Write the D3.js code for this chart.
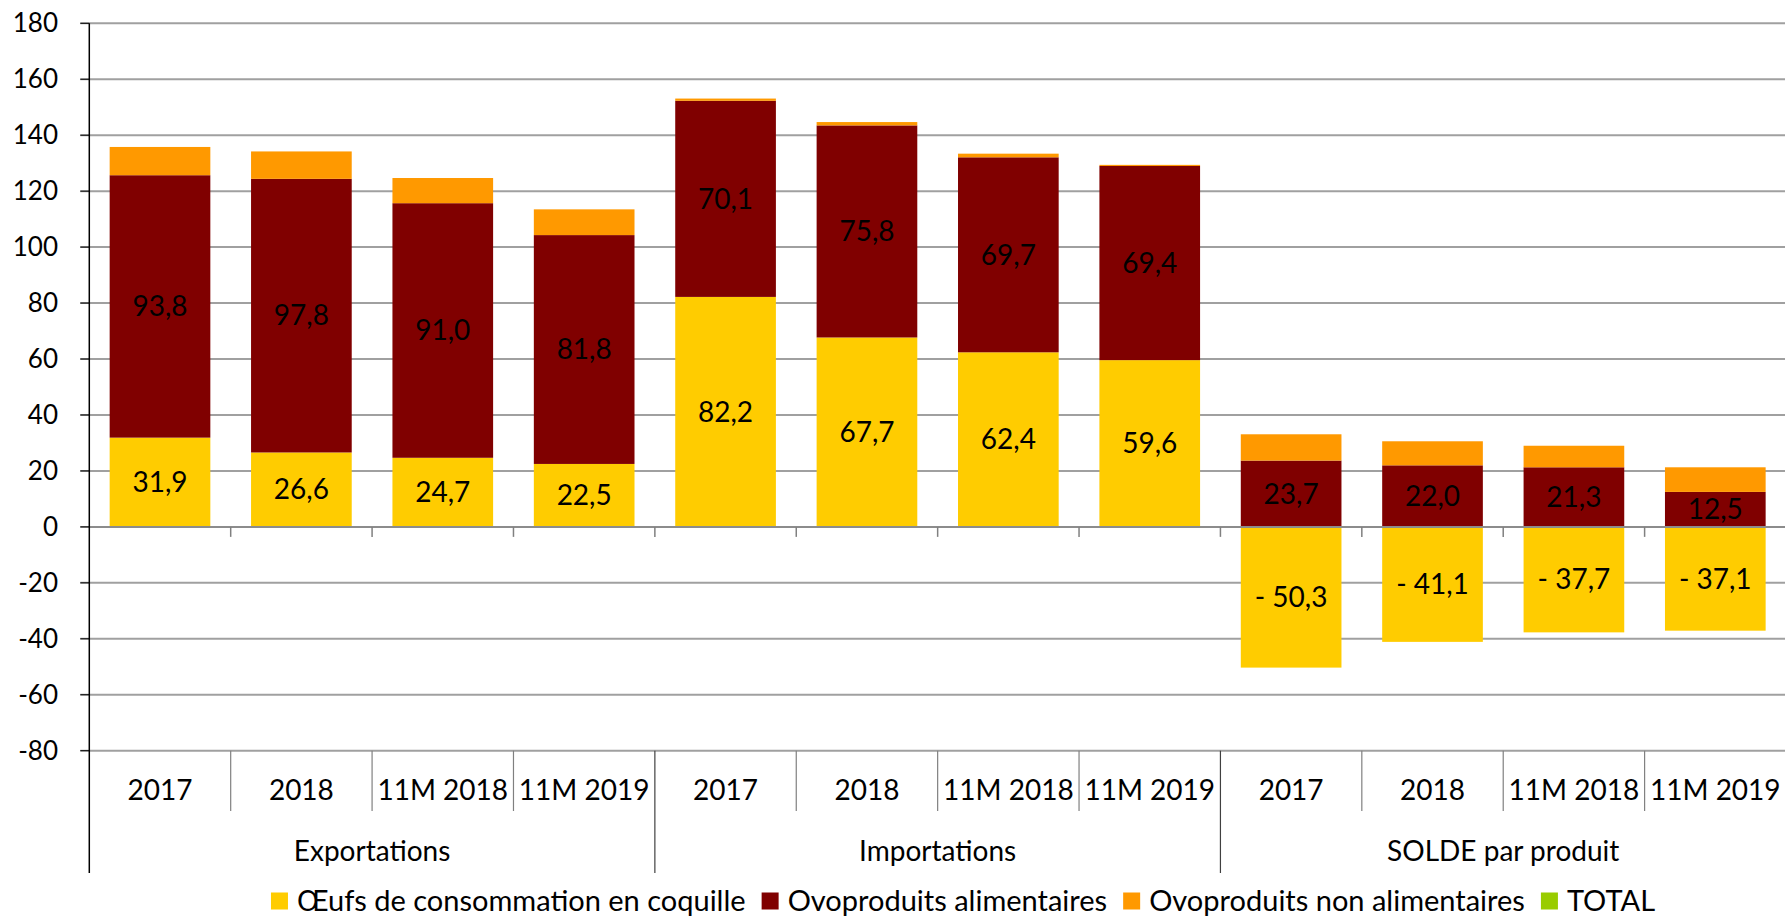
<!DOCTYPE html>
<html>
<head>
<meta charset="utf-8">
<script src="https://cdn.jsdelivr.net/npm/d3@7"></script>
<style>
  body { margin: 0; background: #fff; }
  text { font-family: Lato, "Open Sans", sans-serif; fill: #000; }
</style>
</head>
<body>
<svg id="chart"></svg>
<script>
let width = 1785
let height = 919
let margins = { top: 23.3, left: 89.3, right: 0, bottom: 168.3 }

// categories
let periods = ['2017', '2018', '11M 2018', '11M 2019']
let groups = ['Exportations', 'Importations', 'SOLDE par produit']

// series (one value per group/period, in order)
let oeufs      = [31.9, 26.6, 24.7, 22.5, 82.2, 67.7, 62.4, 59.6, -50.3, -41.1, -37.7, -37.1]
let ovoAlim    = [93.8, 97.8, 91.0, 81.8, 70.1, 75.8, 69.7, 69.4, 23.7, 22.0, 21.3, 12.5]
let ovoNonAlim = [10.1, 9.8, 9.0, 9.2, 0.8, 1.2, 1.3, 0.4, 9.4, 8.6, 7.7, 8.8]

let seriesNames = ['Œufs de consommation en coquille', 'Ovoproduits alimentaires', 'Ovoproduits non alimentaires', 'TOTAL']
let seriesColors = ['#FFCC00', '#800000', '#FF9900', '#99CC00']

let yTicks = [-80, -60, -40, -20, 0, 20, 40, 60, 80, 100, 120, 140, 160, 180]

let rows = []
groups.forEach((g, gi) => {
  periods.forEach((p, pi) => {
    let i = gi * periods.length + pi
    rows.push({ key: i, group: g, period: p, s0: oeufs[i], s1: ovoAlim[i], s2: ovoNonAlim[i] })
  })
})

let svg = d3.select('#chart')
  .attr('width', width)
  .attr('height', height)

let plotBottom = height - margins.bottom

let y = d3.scaleLinear()
  .domain([-80, 180])
  .range([plotBottom, margins.top])

let x = d3.scaleBand()
  .domain(rows.map(d => d.key))
  .range([margins.left, width + 1])
  .paddingInner(0.288)
  .paddingOuter(0.144)

let step = x.step()

// gridlines
svg.append('g')
  .selectAll('line')
  .data(yTicks)
  .join('line')
  .attr('x1', margins.left - 9)
  .attr('x2', width)
  .attr('y1', d => y(d))
  .attr('y2', d => y(d))
  .attr('stroke', '#a0a0a0')
  .attr('stroke-width', 2)

// y tick labels
svg.append('g')
  .selectAll('text')
  .data(yTicks)
  .join('text')
  .attr('x', 58)
  .attr('y', d => y(d))
  .attr('dy', '0.35em')
  .attr('text-anchor', 'end')
  .style('font-size', '26px')
  .text(d => d)

// bars
let stack = d3.stack()
  .keys(['s0', 's1', 's2'])
  .offset(d3.stackOffsetDiverging)
let stacked = stack(rows)

svg.append('g')
  .selectAll('g')
  .data(stacked)
  .join('g')
  .attr('fill', (d, i) => seriesColors[i])
  .selectAll('rect')
  .data(d => d)
  .join('rect')
  .attr('x', d => x(d.data.key))
  .attr('width', x.bandwidth())
  .attr('y', d => y(Math.max(d[0], d[1])))
  .attr('height', d => Math.abs(y(d[0]) - y(d[1])))

// zero line and its small ticks
svg.append('line')
  .attr('x1', margins.left)
  .attr('x2', width)
  .attr('y1', y(0))
  .attr('y2', y(0))
  .attr('stroke', '#8c8c8c')
  .attr('stroke-width', 2)

svg.append('g')
  .selectAll('line')
  .data(rows.slice(1))
  .join('line')
  .attr('x1', d => x(d.key) - step * 0.144)
  .attr('x2', d => x(d.key) - step * 0.144)
  .attr('y1', y(0))
  .attr('y2', y(0) + 10)
  .attr('stroke', '#808080')
  .attr('stroke-width', 1.5)

// value labels (first two series only)
let fmt = v => (v < 0 ? '- ' : '') + d3.format('.1f')(Math.abs(v)).replace('.', ',')

stacked.slice(0, 2).forEach(layer => {
  svg.append('g')
    .selectAll('text')
    .data(layer)
    .join('text')
    .attr('x', d => x(d.data.key) + x.bandwidth() / 2)
    .attr('y', d => y((d[0] + d[1]) / 2))
    .attr('dy', '0.35em')
    .attr('text-anchor', 'middle')
    .style('font-size', '28px')
    .text(d => fmt(d.data[layer.key]))
})

// y axis line
svg.append('line')
  .attr('x1', margins.left)
  .attr('x2', margins.left)
  .attr('y1', margins.top)
  .attr('y2', 873)
  .attr('stroke', '#000')
  .attr('stroke-width', 1.5)

// y axis ticks
svg.append('g')
  .selectAll('line')
  .data(yTicks)
  .join('line')
  .attr('x1', margins.left - 9)
  .attr('x2', margins.left)
  .attr('y1', d => y(d))
  .attr('y2', d => y(d))
  .attr('stroke', '#000')
  .attr('stroke-width', 1)

// category separators below the plot
svg.append('g')
  .selectAll('line')
  .data(rows.slice(1))
  .join('line')
  .attr('x1', d => x(d.key) - step * 0.144)
  .attr('x2', d => x(d.key) - step * 0.144)
  .attr('y1', plotBottom)
  .attr('y2', d => d.key % periods.length === 0 ? 873 : 811)
  .attr('stroke', d => d.key % periods.length === 0 ? '#404040' : '#808080')
  .attr('stroke-width', 1.2)

// period labels
svg.append('g')
  .selectAll('text')
  .data(rows)
  .join('text')
  .attr('x', d => x(d.key) + x.bandwidth() / 2)
  .attr('y', 790)
  .attr('dy', '0.35em')
  .attr('text-anchor', 'middle')
  .style('font-size', '28px')
  .text(d => d.period)

// group labels
svg.append('g')
  .selectAll('text')
  .data(groups)
  .join('text')
  .attr('x', (g, gi) => margins.left + step * periods.length * (gi + 0.5))
  .attr('y', 851.5)
  .attr('dy', '0.35em')
  .attr('text-anchor', 'middle')
  .style('font-size', '28px')
  .text(d => d)

// legend
let legend = svg.append('g')
let cursor = 0
seriesNames.forEach((name, i) => {
  let item = legend.append('g').attr('transform', 'translate(' + cursor + ',0)')
  item.append('rect')
    .attr('x', 0)
    .attr('y', -8.5)
    .attr('width', 17)
    .attr('height', 17)
    .attr('fill', seriesColors[i])
  let t = item.append('text')
    .attr('x', 26)
    .attr('y', 0)
    .attr('dy', '0.35em')
    .style('font-size', '29px')
    .text(name)
  cursor += 26 + t.node().getComputedTextLength() + 16
})
let legendWidth = cursor - 16
legend.attr('transform', 'translate(' + (963 - legendWidth / 2) + ',901)')
</script>
</body>
</html>
